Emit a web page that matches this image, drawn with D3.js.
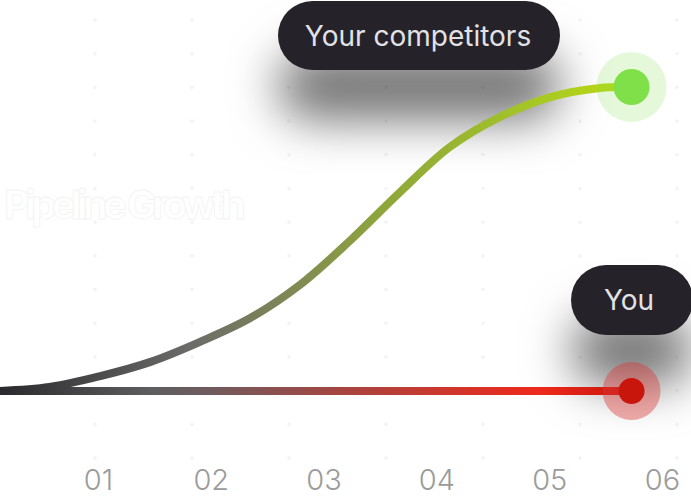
<!DOCTYPE html>
<html>
<head>
<meta charset="utf-8">
<script src="https://cdn.jsdelivr.net/npm/d3@7"></script>
<style>
  html, body { margin: 0; padding: 0; background: #fff; overflow: hidden; }
  svg { display: block; font-family: Inter, "Open Sans", sans-serif; }
</style>
</head>
<body>
<svg id="chart"></svg>
<script>
// months along the x axis
const tickLabels = ["01", "02", "03", "04", "05", "06"];
const tickValues = [1, 2, 3, 4, 5, 6];

// competitors growth (0-100)
const competitorX = [0.13, 0.57, 1.02, 1.46, 1.9, 2.35, 2.79, 3.23, 3.68, 4.12, 4.56, 5.01, 5.45, 5.73];
const competitorY = [0, 1.3, 4.9, 9.5, 16.1, 24.0, 34.9, 49.3, 65.5, 80.3, 90.1, 96.7, 99.7, 100];

// you: flat
const youX = [0.13, 5.73];
const youY = [0, 0];

const width = 691, height = 497;

const svg = d3.select("#chart")
    .attr("width", width)
    .attr("height", height);

const x = d3.scaleLinear().domain([1, 6]).range([98, 662]);
const y = d3.scaleLinear().domain([0, 100]).range([391, 87]);

const defs = svg.append("defs");

const shadow = defs.append("filter")
    .attr("id", "shadow")
    .attr("x", "-50%").attr("y", "-50%")
    .attr("width", "200%").attr("height", "300%");
shadow.append("feDropShadow")
    .attr("dx", 0).attr("dy", 50)
    .attr("stdDeviation", 24)
    .attr("flood-color", "#000")
    .attr("flood-opacity", 0.55);

function gradient(id, stops) {
    const g = defs.append("linearGradient")
        .attr("id", id)
        .attr("gradientUnits", "userSpaceOnUse")
        .attr("x1", x(competitorX[0])).attr("x2", x(5.73))
        .attr("y1", 0).attr("y2", 0);
    g.selectAll("stop").data(stops).enter().append("stop")
        .attr("offset", d => d[0])
        .attr("stop-color", d => d[1]);
}
gradient("gradComp", [[0, "#2a292d"], [0.3, "#6b6b69"], [0.45, "#7e8656"], [0.6, "#8ea53c"], [0.8, "#a0c02a"], [1, "#bcdc12"]]);
gradient("gradYou", [[0, "#2a292d"], [0.24, "#5e5e61"], [0.33, "#6f5b5e"], [0.55, "#a8443f"], [0.85, "#ee2a1c"], [1, "#c8160d"]]);

// faint dot grid
const gx = d3.range(-2, 700, 97);
const gy = d3.range(20, 470, 33.7);
svg.append("g")
    .selectAll("circle")
    .data(d3.cross(gx, gy))
    .enter().append("circle")
    .attr("cx", d => d[0]).attr("cy", d => d[1])
    .attr("r", 1.8)
    .attr("fill", "#f3f3f3");

// hidden title
svg.append("text")
    .attr("x", 4).attr("y", 219)
    .attr("font-size", 40)
    .attr("font-weight", 700)
    .attr("textLength", 242)
    .attr("fill", "#fff")
    .attr("stroke", "#f3f3f3")
    .attr("stroke-width", 0.8)
    .text("Pipeline Growth");

// tooltips (drawn first so shadows sit behind the lines)
function tooltip(label, x0, y0, w, h, fs, cx) {
    const g = svg.append("g");
    g.append("rect")
        .attr("x", x0).attr("y", y0)
        .attr("width", w).attr("height", h)
        .attr("rx", h / 2)
        .attr("fill", "#26242a")
        .attr("filter", "url(#shadow)");
    g.append("text")
        .attr("x", cx).attr("y", y0 + h / 2 + fs * 0.36)
        .attr("text-anchor", "middle")
        .attr("font-size", fs)
        .attr("fill", "#e2e2e6")
        .text(label);
}
tooltip("Your competitors", 278, 1, 282, 69, 28, 418);
tooltip("You", 571, 265, 122, 70, 28, 629);

const line = d3.line()
    .x(d => x(d[0]))
    .y(d => y(d[1]))
    .curve(d3.curveCatmullRom.alpha(0.5));

svg.append("path")
    .datum(d3.zip(youX, youY))
    .attr("d", line)
    .attr("fill", "none")
    .attr("stroke", "url(#gradYou)")
    .attr("stroke-width", 8);

svg.append("path")
    .datum(d3.zip(competitorX, competitorY))
    .attr("d", line)
    .attr("fill", "none")
    .attr("stroke", "url(#gradComp)")
    .attr("stroke-width", 8);

// end points
const last = competitorX.length - 1;
svg.append("circle")
    .attr("cx", x(competitorX[last])).attr("cy", y(competitorY[last]))
    .attr("r", 35).attr("fill", "#7de048").attr("opacity", 0.2);
svg.append("circle")
    .attr("cx", x(competitorX[last])).attr("cy", y(competitorY[last]))
    .attr("r", 18).attr("fill", "#80e04a");

svg.append("circle")
    .attr("cx", x(youX[1])).attr("cy", y(youY[1]))
    .attr("r", 29).attr("fill", "#d83a36").attr("opacity", 0.42);
svg.append("circle")
    .attr("cx", x(youX[1])).attr("cy", y(youY[1]))
    .attr("r", 13).attr("fill", "#c8160d");

// x axis labels
const axis = d3.axisBottom(x)
    .tickValues(tickValues)
    .tickFormat((d, i) => tickLabels[i])
    .tickSize(0)
    .tickPadding(0);

const ax = svg.append("g")
    .attr("transform", "translate(0,469)")
    .call(axis);
ax.select(".domain").remove();
ax.selectAll("text")
    .attr("dy", "0.72em")
    .attr("font-size", 29)
    .attr("font-weight", 300)
    .attr("font-family", "Inter, sans-serif")
    .attr("fill", "#9b9b9b");
</script>
</body>
</html>
